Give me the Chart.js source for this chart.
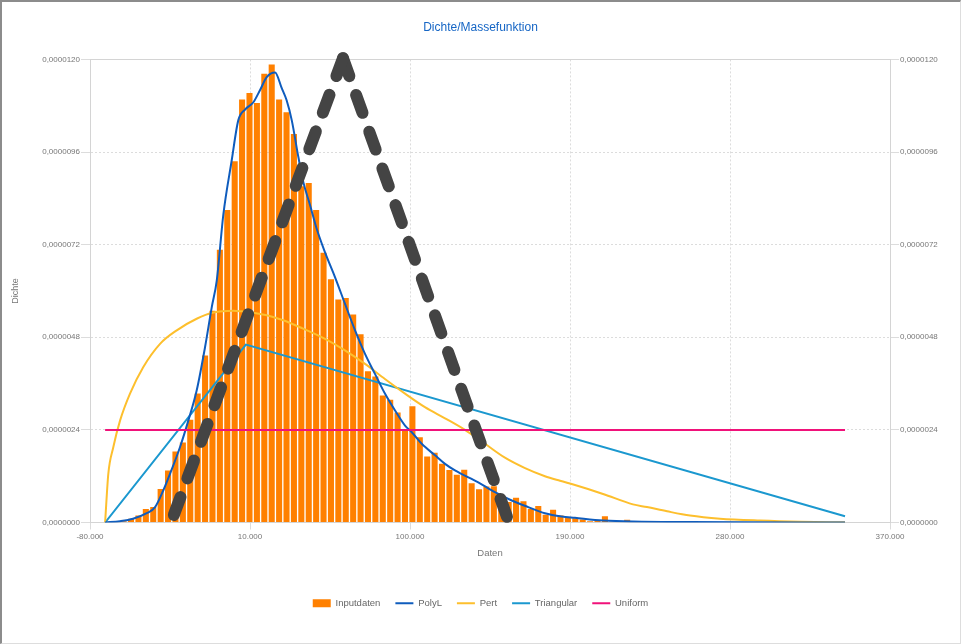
<!DOCTYPE html>
<html>
<head>
    <meta charset="utf-8">
    <title>Dichte/Massefunktion</title>
    <script src="https://cdn.jsdelivr.net/npm/chart.js"></script>
    <style>
        body {
            margin: 0;
            background: #fff;
        }
        .frame {
            position: relative;
            width: 961px;
            height: 644px;
        }
        .frame canvas {
            position: absolute;
            left: 0;
            top: 0;
        }
        .edge {
            position: absolute;
            inset: 0;
            box-sizing: border-box;
            border-left: 2px solid #8c8c8c;
            border-top: 2px solid #8c8c8c;
            border-right: 1px solid #dddddd;
            border-bottom: 1px solid #dddddd;
            pointer-events: none;
        }
    </style>
</head>
<body>
    <div class="frame">
        <canvas id="densityChart"></canvas>
        <div class="edge"></div>
    </div>

    <script>
        // Histogram of the input data (bins of equal width)
        const binStart = -71500;
        const binWidth = 4165;
        const inputHeights = [
            0, 0.01e-6, 0.03e-6, 0.10e-6, 0.18e-6, 0.35e-6, 0.40e-6, 0.87e-6, 1.35e-6, 1.84e-6,
            2.07e-6, 2.66e-6, 3.34e-6, 4.33e-6, 5.49e-6, 7.07e-6, 8.10e-6, 9.36e-6, 10.96e-6, 11.13e-6,
            10.87e-6, 11.63e-6, 11.87e-6, 10.96e-6, 10.63e-6, 10.07e-6, 8.71e-6, 8.80e-6, 8.10e-6, 6.99e-6,
            6.30e-6, 5.78e-6, 5.82e-6, 5.39e-6, 4.88e-6, 3.92e-6, 3.78e-6, 3.29e-6, 3.18e-6, 2.85e-6,
            2.38e-6, 3.01e-6, 2.21e-6, 1.71e-6, 1.81e-6, 1.52e-6, 1.36e-6, 1.24e-6, 1.37e-6, 1.02e-6,
            0.86e-6, 0.93e-6, 0.94e-6, 0.66e-6, 0.53e-6, 0.64e-6, 0.55e-6, 0.35e-6, 0.43e-6, 0.20e-6,
            0.33e-6, 0.18e-6, 0.13e-6, 0.11e-6, 0.08e-6, 0.03e-6, 0.05e-6, 0.16e-6, 0.02e-6, 0.01e-6,
            0.07e-6, 0.01e-6, 0.02e-6, 0.01e-6, 0.01e-6, 0, 0, 0.03e-6, 0, 0,
            0, 0, 0, 0, 0, 0, 0, 0, 0, 0,
            0, 0, 0, 0, 0, 0, 0, 0, 0, 0
        ];
        const binCenters = inputHeights.map((_, i) => binStart + binWidth * (i + 0.5));

        // Fitted densities
        const polyX = [-71500, -63100, -55800, -48100, -43400, -38800, -35000, -29400, -24700, -20000,
            -15300, -11500, -8700, -5000, -300, 3400, 7200, 11900, 15600, 19400,
            24100, 27800, 30600, 33500, 37200, 40000, 43800, 47500, 52200, 57800,
            63400, 69100, 74700, 80300, 85900, 91600, 97200, 101000, 106600, 114100,
            119700, 125300, 138400, 147800, 157200, 166500, 175900, 185300, 192800, 208600,
            257500, 344700];
        const polyY = [0, 0.034e-6, 0.096e-6, 0.24e-6, 0.40e-6, 0.83e-6, 1.26e-6, 1.95e-6, 2.64e-6, 3.42e-6,
            4.54e-6, 5.58e-6, 6.27e-6, 7.98e-6, 9.38e-6, 10.42e-6, 10.70e-6, 10.89e-6, 11.20e-6, 11.54e-6,
            11.66e-6, 11.26e-6, 10.94e-6, 10.42e-6, 9.47e-6, 8.82e-6, 8.22e-6, 7.61e-6, 7.00e-6, 6.36e-6,
            5.67e-6, 4.98e-6, 4.37e-6, 3.85e-6, 3.34e-6, 2.90e-6, 2.51e-6, 2.34e-6, 2.04e-6, 1.74e-6,
            1.52e-6, 1.35e-6, 1.04e-6, 0.785e-6, 0.57e-6, 0.40e-6, 0.24e-6, 0.155e-6, 0.12e-6, 0.05e-6,
            0.01e-6, 0];

        const pertX = [-71500, -69700, -66900, -63100, -57500, -50000, -40600, -31200, -20000, -10600,
            600, 10000, 19400, 28700, 38100, 52200, 63400, 74700, 85900, 97200,
            108400, 119700, 130900, 142200, 153400, 164700, 175900, 184400, 192800, 208600,
            225400, 233300, 244600, 257500, 274400, 296900, 319400, 344700];
        const pertY = [0, 1.26e-6, 1.95e-6, 2.64e-6, 3.34e-6, 4.03e-6, 4.63e-6, 4.98e-6, 5.28e-6, 5.44e-6,
            5.49e-6, 5.45e-6, 5.37e-6, 5.24e-6, 5.06e-6, 4.76e-6, 4.46e-6, 4.11e-6, 3.72e-6, 3.34e-6,
            2.99e-6, 2.70e-6, 2.40e-6, 2.04e-6, 1.68e-6, 1.41e-6, 1.20e-6, 1.08e-6, 0.97e-6, 0.74e-6,
            0.47e-6, 0.40e-6, 0.29e-6, 0.18e-6, 0.10e-6, 0.05e-6, 0.02e-6, 0.005e-6];

        const triX = [-71500, 7700, 344700];
        const triY = [0, 4.61e-6, 0.16e-6];

        const uniX = [-71500, 344700];
        const uniY = [2.4e-6, 2.4e-6];

        // hand-drawn dashed triangle over the chart (left foot, apex, right foot)
        const markX = [-34400, 62300, 155700];
        const markY = [0, 12.03e-6, 0];

        // Axes
        const xMin = -80000;
        const xMax = 370000;
        const xTickValues = [-80000, 10000, 100000, 190000, 280000, 370000];
        const yMin = 0;
        const yMax = 0.000012;
        const yTickValues = [0, 0.0000024, 0.0000048, 0.0000072, 0.0000096, 0.000012];

        const toPoints = (xs, ys) => xs.map((x, i) => ({ x: x, y: ys[i] }));
        const fmtDensity = v => Number(v).toFixed(7).replace('.', ',');
        const fmtThousands = v => {
            const s = String(Math.round(Math.abs(v))).replace(/\B(?=(\d{3})+(?!\d))/g, '.');
            return (v < 0 ? '-' : '') + s;
        };

        Chart.defaults.font.family = "'Liberation Sans', Arial, sans-serif";
        Chart.defaults.color = '#777';

        const gridColor = '#dcdcdc';
        const axisColor = '#d4d4d4';
        const tickFont = { size: 8 };

        // each leg of the marker is stroked from the apex down, so a dash starts at the apex
        const markLeg = (apex, foot) => ({
            type: 'line',
            label: '',
            data: [{ x: markX[apex], y: markY[apex] }, { x: markX[foot], y: markY[foot] }],
            borderColor: '#444444',
            borderWidth: 12,
            borderDash: [19, 20],
            borderCapStyle: 'round',
            borderJoinStyle: 'round',
            tension: 0,
            pointRadius: 0,
            clip: false,
            order: 0
        });

        // solid line along the top of the plot area
        const topRule = {
            id: 'topRule',
            beforeDatasetsDraw(chart) {
                const { ctx, chartArea } = chart;
                ctx.save();
                ctx.strokeStyle = axisColor;
                ctx.lineWidth = 1;
                ctx.beginPath();
                ctx.moveTo(chartArea.left, Math.round(chartArea.top) + 0.5);
                ctx.lineTo(chartArea.right, Math.round(chartArea.top) + 0.5);
                ctx.stroke();
                ctx.restore();
            }
        };

        const ctx = document.getElementById('densityChart').getContext('2d');
        const densityChart = new Chart(ctx, {
            type: 'bar',
            data: {
                datasets: [
                    {
                        type: 'bar',
                        label: 'Inputdaten',
                        data: toPoints(binCenters, inputHeights),
                        backgroundColor: '#ff8000',
                        borderWidth: 0,
                        pointStyle: 'rect',
                        categoryPercentage: 1,
                        barPercentage: 0.82,
                        order: 3
                    },
                    {
                        type: 'line',
                        label: 'PolyL',
                        data: toPoints(polyX, polyY),
                        borderColor: '#0f5cbd',
                        backgroundColor: '#0f5cbd',
                        borderWidth: 2,
                        cubicInterpolationMode: 'monotone',
                        pointRadius: 0,
                        pointStyle: 'line',
                        order: 2
                    },
                    {
                        type: 'line',
                        label: 'Pert',
                        data: toPoints(pertX, pertY),
                        borderColor: '#fdbf2d',
                        backgroundColor: '#fdbf2d',
                        borderWidth: 2,
                        cubicInterpolationMode: 'monotone',
                        pointRadius: 0,
                        pointStyle: 'line',
                        order: 2
                    },
                    {
                        type: 'line',
                        label: 'Triangular',
                        data: toPoints(triX, triY),
                        borderColor: '#1b98cf',
                        backgroundColor: '#1b98cf',
                        borderWidth: 2,
                        tension: 0,
                        pointRadius: 0,
                        pointStyle: 'line',
                        order: 2
                    },
                    {
                        type: 'line',
                        label: 'Uniform',
                        data: toPoints(uniX, uniY),
                        borderColor: '#f0127a',
                        backgroundColor: '#f0127a',
                        borderWidth: 2,
                        tension: 0,
                        pointRadius: 0,
                        pointStyle: 'line',
                        order: 1
                    },
                    markLeg(1, 0),
                    markLeg(1, 2)
                ]
            },
            options: {
                responsive: true,
                maintainAspectRatio: false,
                animation: false,
                layout: {
                    padding: { top: 0, left: 0, right: 0, bottom: 26 }
                },
                plugins: {
                    title: {
                        display: true,
                        text: 'Dichte/Massefunktion',
                        color: '#1666c5',
                        font: { size: 12, weight: 'normal' },
                        padding: { top: 20, bottom: 25 }
                    },
                    legend: {
                        position: 'bottom',
                        labels: {
                            usePointStyle: true,
                            pointStyleWidth: 18,
                            boxHeight: 8,
                            padding: 15,
                            color: '#666',
                            font: { size: 9.5 },
                            filter: item => item.text !== '',
                            sort: (a, b) => a.datasetIndex - b.datasetIndex
                        }
                    },
                    tooltip: { enabled: false }
                },
                scales: {
                    x: {
                        type: 'linear',
                        position: 'bottom',
                        min: xMin,
                        max: xMax,
                        offset: false,
                        afterBuildTicks: s => { s.ticks = xTickValues.map(v => ({ value: v })); },
                        afterFit: s => { s.height = 61; },
                        grid: { color: gridColor, offset: false, tickLength: 7, tickColor: gridColor },
                        border: { color: axisColor, dash: [2, 2] },
                        ticks: { padding: 2, maxRotation: 0, font: tickFont, callback: v => fmtThousands(v) },
                        title: {
                            display: true,
                            text: 'Daten',
                            font: { size: 9.5 },
                            padding: { top: 0, bottom: 24 }
                        }
                    },
                    y: {
                        type: 'linear',
                        position: 'left',
                        min: yMin,
                        max: yMax,
                        afterBuildTicks: s => { s.ticks = yTickValues.map(v => ({ value: v })); },
                        afterFit: s => { s.width = 90; },
                        grid: { color: gridColor, tickLength: 9, tickColor: gridColor },
                        border: { color: axisColor, dash: [2, 2] },
                        ticks: { padding: 1, font: tickFont, callback: v => fmtDensity(v) },
                        title: {
                            display: true,
                            text: 'Dichte',
                            font: { size: 9 },
                            padding: { top: 10, bottom: 0 }
                        }
                    },
                    y2: {
                        type: 'linear',
                        position: 'right',
                        min: yMin,
                        max: yMax,
                        afterBuildTicks: s => { s.ticks = yTickValues.map(v => ({ value: v })); },
                        afterFit: s => { s.width = 71; },
                        grid: { drawOnChartArea: false, tickLength: 9, tickColor: gridColor },
                        border: { color: axisColor },
                        ticks: { padding: 1, font: tickFont, callback: v => fmtDensity(v) }
                    }
                }
            },
            plugins: [topRule]
        });
    </script>
</body>
</html>
